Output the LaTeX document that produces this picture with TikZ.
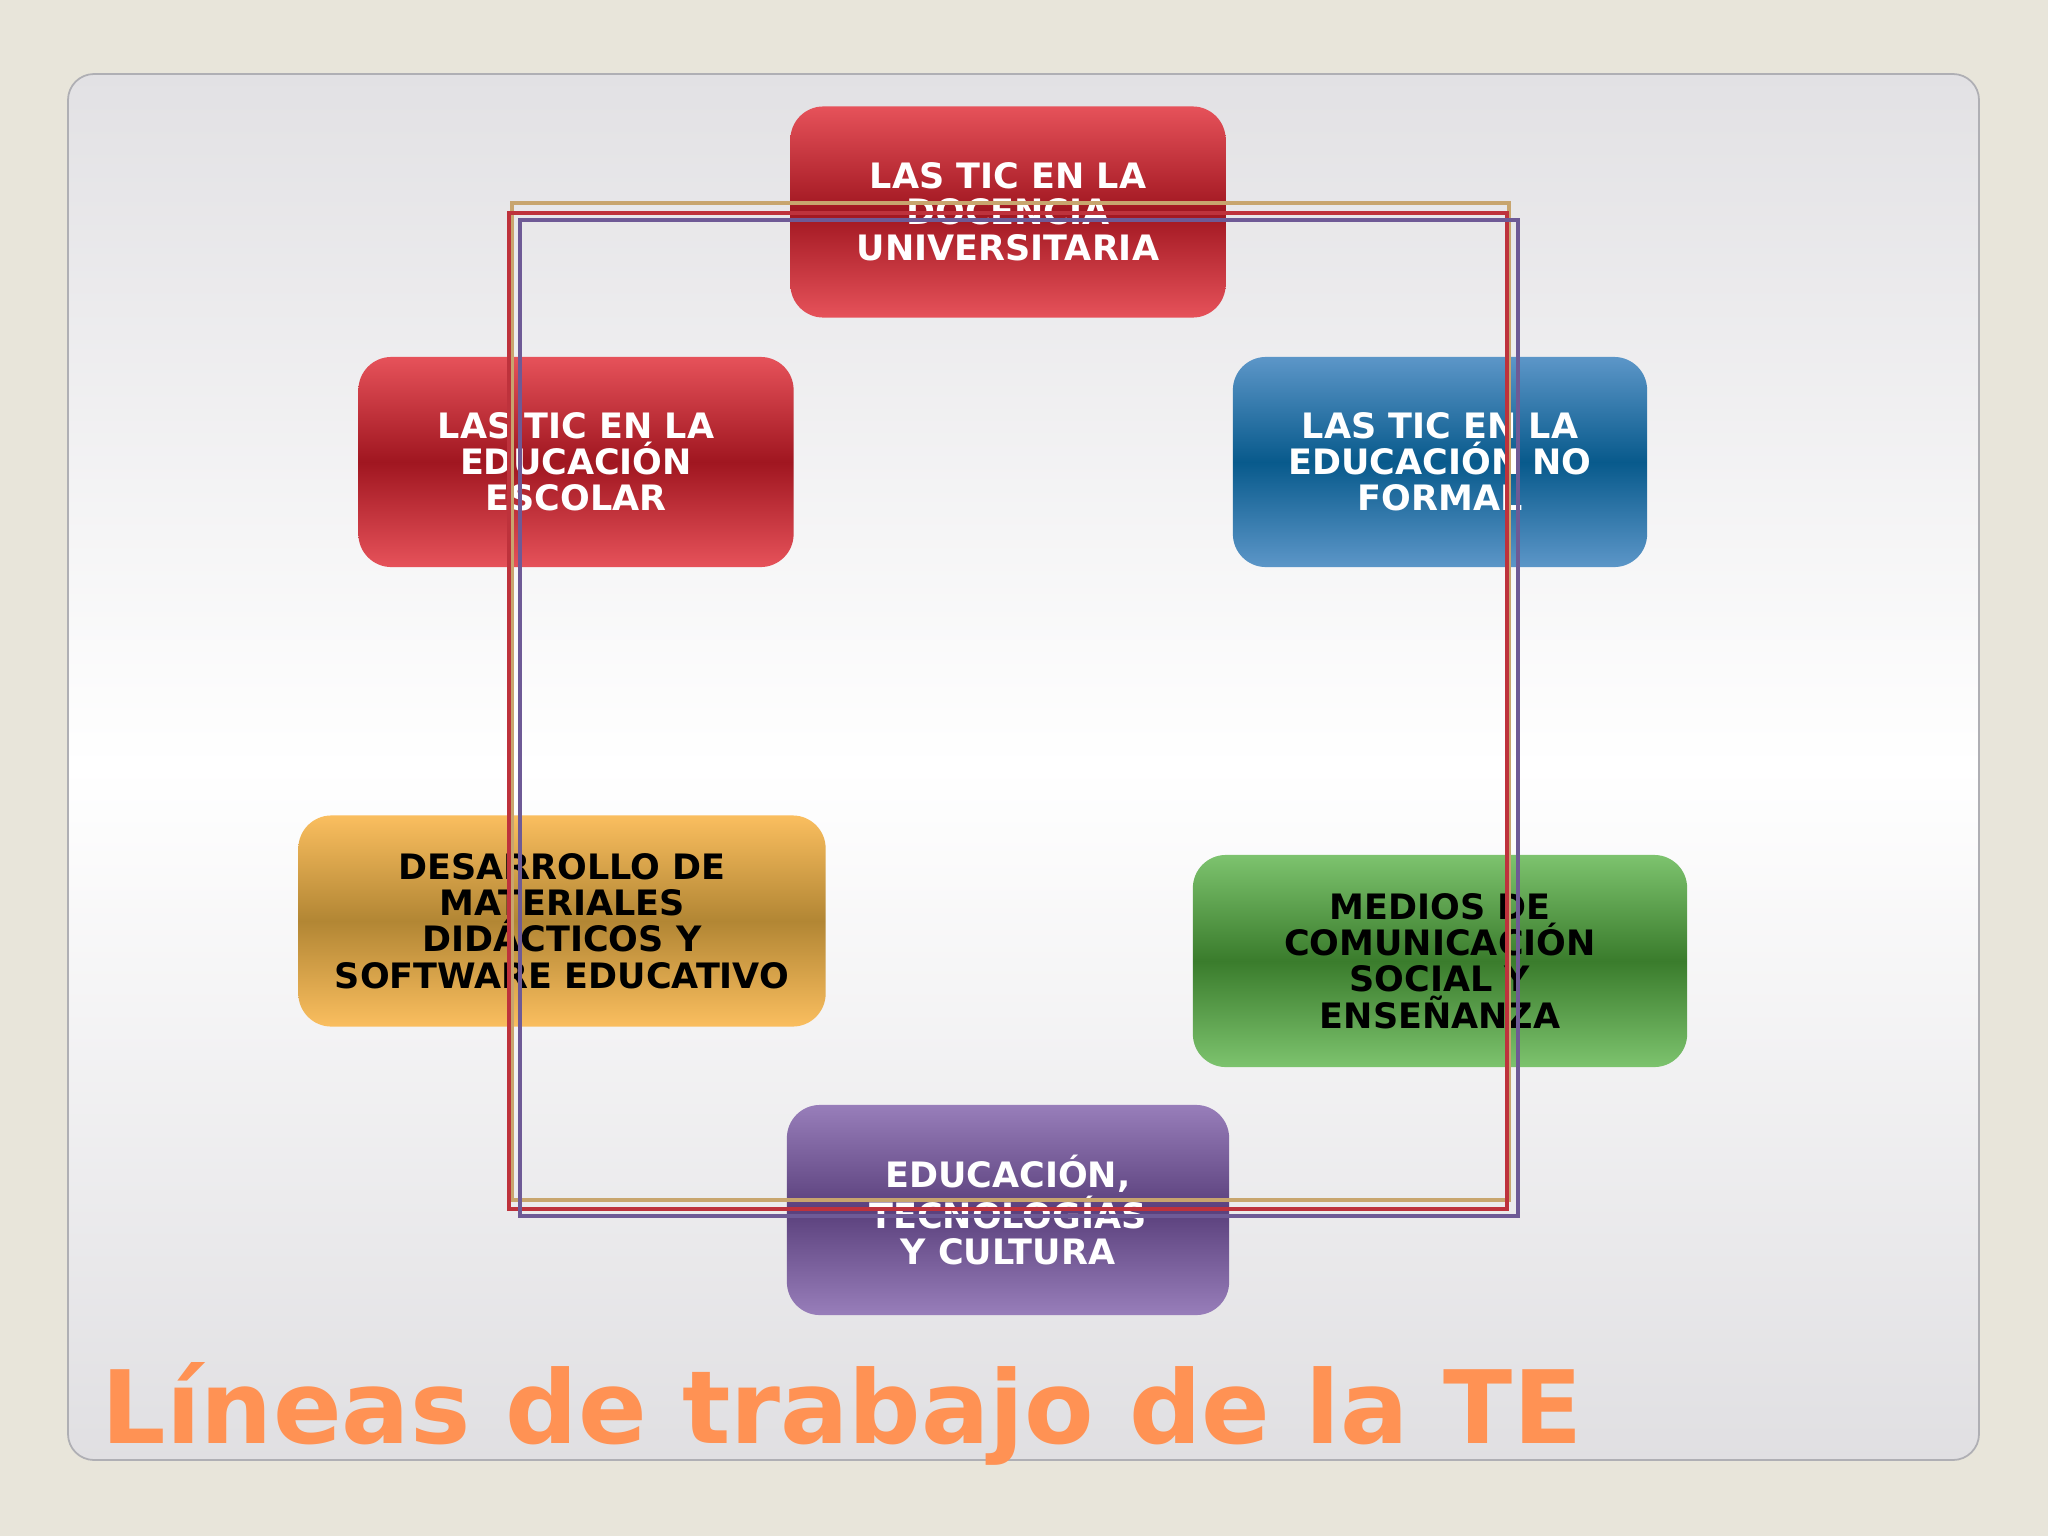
\documentclass[tikz,border=0pt]{standalone}
\usepackage{fontspec}
\setmainfont{DejaVu Sans}
\usetikzlibrary{positioning}

\definecolor{fondo}{RGB}{232,229,218}
\definecolor{panelgris}{RGB}{226,225,228}
\definecolor{panelborde}{RGB}{175,175,180}
\definecolor{rojoclaro}{RGB}{230,82,90}
\definecolor{rojooscuro}{RGB}{160,22,32}
\definecolor{azulclaro}{RGB}{92,150,200}
\definecolor{azuloscuro}{RGB}{8,90,140}
\definecolor{amarilloclaro}{RGB}{250,190,95}
\definecolor{amarillooscuro}{RGB}{178,134,52}
\definecolor{verdeclaro}{RGB}{125,195,110}
\definecolor{verdeoscuro}{RGB}{58,124,44}
\definecolor{moradoclaro}{RGB}{152,126,186}
\definecolor{moradooscuro}{RGB}{90,64,124}
\definecolor{lineaoro}{RGB}{200,165,110}
\definecolor{linearoja}{RGB}{190,50,60}
\definecolor{lineamorada}{RGB}{110,90,150}
\definecolor{tituloco}{RGB}{255,146,84}

\tikzset{
  caja/.style={rounded corners=0.33cm, align=center, inner sep=0pt,
    font=\fontsize{9.95}{10.3}\selectfont\bfseries},
  rojo/.style={caja, top color=rojoclaro, bottom color=rojoclaro, middle color=rojooscuro, text=white},
  azul/.style={caja, top color=azulclaro, bottom color=azulclaro, middle color=azuloscuro, text=white},
  amarillo/.style={caja, top color=amarilloclaro, bottom color=amarilloclaro, middle color=amarillooscuro, text=black},
  verde/.style={caja, top color=verdeclaro, bottom color=verdeclaro, middle color=verdeoscuro, text=black},
  morado/.style={caja, top color=moradoclaro, bottom color=moradoclaro, middle color=moradooscuro, text=white},
  marco/.style={line width=0.9pt}
}

\begin{document}
\begin{tikzpicture}[x=0.01cm,y=-0.01cm]
\fill[fondo] (0,0) rectangle (2048,1536);
\useasboundingbox (0,0) rectangle (2048,1536);
\draw[panelborde, line width=0.5pt, rounded corners=0.26cm, top color=panelgris, bottom color=panelgris!98!gray, middle color=white] (68,74) rectangle (1979,1460);

\node[rojo, minimum width=4.35cm, minimum height=2.11cm] (docencia) at (1008,212) {LAS TIC EN LA\\DOCENCIA\\UNIVERSITARIA};
\node[rojo, minimum width=4.35cm, minimum height=2.10cm] (escolar) at (576,462) {LAS TIC EN LA\\EDUCACIÓN\\ESCOLAR};
\node[azul, minimum width=4.14cm, minimum height=2.10cm] (noformal) at (1440,462) {LAS TIC EN LA\\EDUCACIÓN NO\\FORMAL};
\node[amarillo, minimum width=5.27cm, minimum height=2.11cm] (materiales) at (562,921) {DESARROLLO DE\\MATERIALES\\DIDÁCTICOS Y\\SOFTWARE EDUCATIVO};
\node[verde, minimum width=4.94cm, minimum height=2.12cm] (medios) at (1440,961) {MEDIOS DE\\COMUNICACIÓN\\SOCIAL Y\\ENSEÑANZA};
\node[morado, minimum width=4.42cm, minimum height=2.10cm] (cultura) at (1008,1210) {EDUCACIÓN,\\TECNOLOGÍAS\\Y CULTURA};

\draw[marco, lineaoro] (512,203) rectangle (1509,1200);
\draw[marco, linearoja] (509,213) rectangle (1507,1209);
\draw[marco, lineamorada] (520,220) rectangle (1518,1216);

\node[anchor=base west, inner sep=0pt, text=tituloco, font=\fontsize{28.8}{30}\selectfont\bfseries] (titulo) at (101,1443) {Líneas de trabajo de la TE};
\end{tikzpicture}
\end{document}
